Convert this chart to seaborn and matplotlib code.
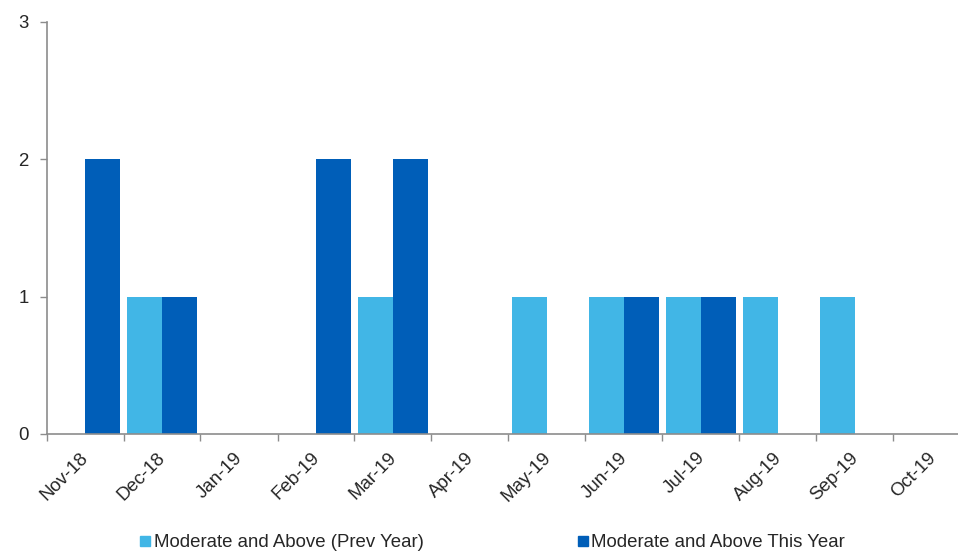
import matplotlib
matplotlib.use("Agg")
import matplotlib.pyplot as plt
import matplotlib.transforms as mtrans
import seaborn as sns
import pandas as pd
import numpy as np
from matplotlib.lines import Line2D

months = ["Nov-18", "Dec-18", "Jan-19", "Feb-19", "Mar-19", "Apr-19",
          "May-19", "Jun-19", "Jul-19", "Aug-19", "Sep-19", "Oct-19"]
prev_year = [0, 1, 0, 0, 1, 0, 1, 1, 1, 1, 1, 0]
this_year = [2, 1, 0, 2, 2, 0, 0, 1, 1, 0, 0, 0]
series_names = ["Moderate and Above (Prev Year)", "Moderate and Above This Year"]
colors = ["#41B6E6", "#005EB8"]

df = pd.DataFrame({
    "Month": months * 2,
    "Value": prev_year + this_year,
    "Series": [series_names[0]] * len(months) + [series_names[1]] * len(months),
})

sns.set_style("white")
plt.rcParams["font.family"] = ["Liberation Sans", "DejaVu Sans"]

FS = 13.4
fig = plt.figure(figsize=(9.58, 5.53), dpi=100)
ax = fig.add_axes([46.5/958, 1-434/553, 924/958, (434-22)/553])

sns.barplot(data=df, x="Month", y="Value", hue="Series", order=months,
            hue_order=series_names, palette=colors, width=0.92, saturation=1,
            linewidth=0, ax=ax, legend=False)

ax.set_xlim(-0.5, len(months) - 0.5)
ax.set_ylim(0, 3)
ax.set_yticks([0, 1, 2, 3])
ax.set_xlabel("")
ax.set_ylabel("")

for s in ["top", "right"]:
    ax.spines[s].set_visible(False)
for s in ["left", "bottom"]:
    ax.spines[s].set_color("#8c8c8c")
    ax.spines[s].set_linewidth(1.2)

ax.tick_params(axis="y", which="major", length=5, width=1, color="#8c8c8c",
               labelsize=FS, pad=8, left=True, direction="out")
ax.set_xticks(np.arange(len(months)))
ax.set_xticklabels(months, rotation=45, ha="right", rotation_mode="anchor")
ax.tick_params(axis="x", which="major", length=0, labelsize=FS, pad=11)
ax.set_xticks(np.arange(len(months) + 1) - 0.5, minor=True)
ax.tick_params(axis="x", which="minor", length=5, width=1, color="#8c8c8c",
               bottom=True, direction="out")
offset = mtrans.ScaledTranslation(-5/100, 0, fig.dpi_scale_trans)
for lab in ax.get_xticklabels():
    lab.set_transform(lab.get_transform() + offset)

handles = [Line2D([0], [0], marker="s", linestyle="none", markersize=7.5,
                  markerfacecolor=c, markeredgecolor=c) for c in colors]
fig.legend(handles, series_names, loc="lower center", ncol=2,
           bbox_to_anchor=(0.513, -0.027), frameon=False, fontsize=FS,
           columnspacing=8.15, handletextpad=0.05, handlelength=0.8)

fig.savefig("out.png", dpi=100)
